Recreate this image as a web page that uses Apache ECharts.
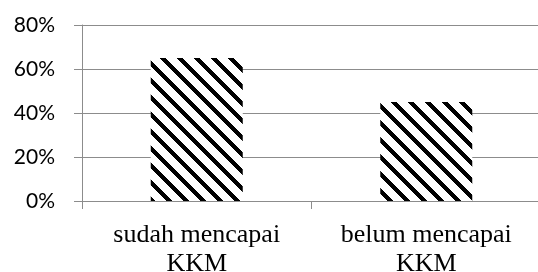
<!DOCTYPE html>
<html style="height: 100%">
<head>
    <meta charset="utf-8">
    <title>KKM</title>
</head>
<body style="height: 100%; margin: 0; background: #fff">
<div id="main" style="width: 538px; height: 272px;"></div>
<script src="https://cdn.jsdelivr.net/npm/echarts@6/dist/echarts.min.js"></script>
<script type="text/javascript">
    var categories = ['sudah mencapai\nKKM', 'belum mencapai\nKKM'];
    var values = [65, 45];
    var yMin = 0, yMax = 80, yStep = 20;

    // diagonal stripe fill like the original, drawn pixel by pixel so tiles join cleanly
    function stripes() {
        var s = 17, w = 6;
        var c = document.createElement('canvas');
        c.width = s; c.height = s;
        var ctx = c.getContext('2d');
        var img = ctx.createImageData(s, s);
        for (var y = 0; y < s; y++) {
            for (var x = 0; x < s; x++) {
                var d = ((x - y) % s + s) % s;
                var v = d < w ? 0 : 255;
                var i = (y * s + x) * 4;
                img.data[i] = v; img.data[i + 1] = v; img.data[i + 2] = v; img.data[i + 3] = 255;
            }
        }
        ctx.putImageData(img, 0, 0);
        return c;
    }

    var gray = '#8c8c8c';
    var myChart = echarts.init(document.getElementById('main'));
    var option = {
        animation: false,
        grid: {
            left: 82, right: -3, top: 25, bottom: 71,
            containLabel: false, outerBoundsMode: 'none'
        },
        xAxis: {
            type: 'category',
            data: categories,
            axisLine: { lineStyle: { color: gray, width: 1 } },
            axisTick: { show: true, length: 8, lineStyle: { color: gray } },
            axisLabel: {
                color: '#000', fontFamily: 'Liberation Serif', fontSize: 26,
                lineHeight: 29, margin: 20, interval: 0
            }
        },
        yAxis: {
            type: 'value',
            min: yMin, max: yMax, interval: yStep,
            axisLine: { show: true, lineStyle: { color: gray, width: 1 } },
            axisTick: { show: true, length: 8, lineStyle: { color: gray } },
            splitLine: { lineStyle: { color: gray, width: 1 } },
            axisLabel: {
                color: '#000', fontFamily: 'Lato', fontSize: 21, margin: 27,
                formatter: '{value}%'
            }
        },
        series: [{
            type: 'bar',
            data: values,
            barWidth: 92,
            itemStyle: { color: { image: stripes(), repeat: 'repeat' } }
        }]
    };
    myChart.setOption(option, true);
</script>
</body>
</html>
